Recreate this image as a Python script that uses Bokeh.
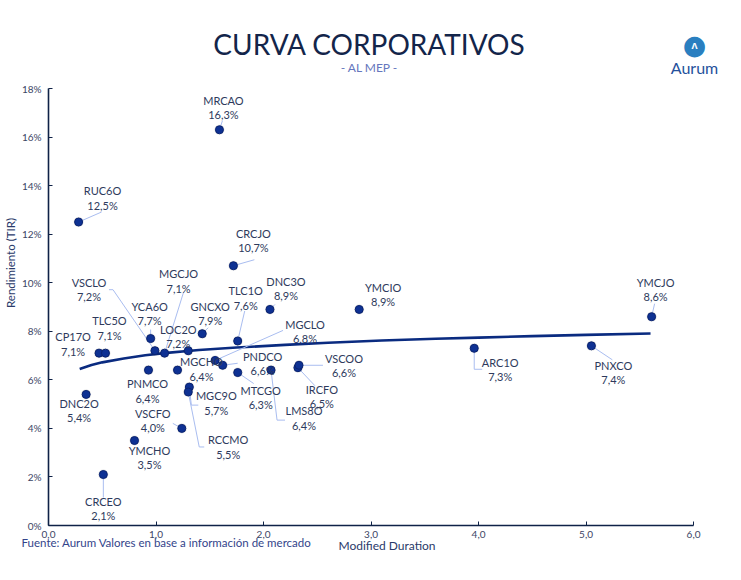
import math
from bokeh.plotting import figure
from bokeh.models import (Label, FixedTicker, CustomJSTickFormatter, ColumnDataSource,
                          Range1d, Title)
from bokeh.core.properties import value
from bokeh.embed import file_html
from bokeh.resources import INLINE

# ---------------- data ----------------
bonds = ["MRCAO", "RUC6O", "CRCJO", "YMCIO", "DNC3O", "YMCJO", "GNCXO", "TLC1O",
         "YCA6O", "VSCLO", "MGCJO", "LOC2O", "CP17O", "TLC5O", "ARC1O", "PNXCO",
         "MGCHO", "MGCLO", "PNDCO", "MTCGO", "LMS8O", "IRCFO", "VSCOO", "PNMCO",
         "MGC9O", "RCCMO", "VSCFO", "YMCHO", "CRCEO", "DNC2O"]
duration = [1.59, 0.28, 1.72, 2.89, 2.06, 5.61, 1.43, 1.76,
            0.95, 0.99, 1.08, 1.30, 0.47, 0.53, 3.96, 5.05,
            1.20, 1.55, 1.62, 1.76, 2.07, 2.32, 2.33, 0.93,
            1.31, 1.30, 1.24, 0.80, 0.51, 0.35]
ytm = [16.3, 12.5, 10.7, 8.9, 8.9, 8.6, 7.9, 7.6,
       7.7, 7.2, 7.1, 7.2, 7.1, 7.1, 7.3, 7.4,
       6.4, 6.8, 6.6, 6.3, 6.4, 6.5, 6.6, 6.4,
       5.7, 5.5, 4.0, 3.5, 2.1, 5.4]

# trend line
trend_x = [0.29, 0.40, 0.50, 0.70, 0.90, 1.10, 1.40, 1.75, 2.20, 2.60, 3.10, 3.60, 4.00, 4.50, 5.00, 5.60]
trend_y = [6.45, 6.61, 6.72, 6.88, 7.01, 7.11, 7.23, 7.33, 7.44, 7.53, 7.62, 7.69, 7.74, 7.80, 7.85, 7.91]

x_ticks = [0, 1, 2, 3, 4, 5, 6]
y_ticks = [0, 2, 4, 6, 8, 10, 12, 14, 16, 18]
x_axis_max = 6
y_axis_max = 18

# ---------------- layout / styling ----------------
W, H = 725, 564
FL, FB = 47, 39                 # frame left / bottom border (frame runs to top & right edge)
FW, FH = W - FL, H - FB
PX = 646 / x_axis_max           # px per duration unit
PY = 437 / y_axis_max           # px per percent

NAVY = "#0f2247"
TXT = "#2e3a5c"
PT = "#0e3193"
LEAD = "#a9bdf0"
FONT = "Lato"

# label offsets (px, screen, y down) and leader polylines
label_pos = {
    "MRCAO": (4, -22, [(3, -9)]),
    "RUC6O": (24, -24, [(23, -10)]),
    "CRCJO": (20, -25, [(21, -6)]),
    "YMCIO": (24, -15, []),
    "DNC3O": (16, -21, [(5, -5)]),
    "YMCJO": (4, -27, [(3, -13)]),
    "GNCXO": (8, -20, [(6, -6)]),
    "TLC1O": (8, -43, [(7, -30)]),
    "YCA6O": (-1, -25, [(0, -9)]),
    "VSCLO": (-66, -61, [(-42, -61), (-46, -61)]),
    "MGCJO": (14, -72, [(19, -61)]),
    "LOC2O": (-10, -14, []),
    "CP17O": (-26, -9, []),
    "TLC5O": (4, -25, []),
    "ARC1O": (26, 21, [(0, 21), (8, 21)]),
    "PNXCO": (22, 27, [(21, 14)]),
    "MGCHO": (24, -1, []),
    "MGCLO": (90, -29, [(68, -30)]),
    "PNDCO": (40, -2, [(15, -2)]),
    "MTCGO": (23, 25, [(16, 11)]),
    "LMS8O": (33, 48, [(6, 50), (14, 50)]),
    "IRCFO": (24, 29, [(17, 18)]),
    "VSCOO": (45, 0, [(24, 0)]),
    "PNMCO": (-1, 21, []),
    "MGC9O": (27, 16, [(2, 18), (9, 18)]),
    "RCCMO": (40, 55, [(11, 55), (16, 55)]),
    "VSCFO": (-29, -8, [(-9, -5)]),
    "YMCHO": (15, 17, []),
    "CRCEO": (0, 34, [(0, 23)]),
    "DNC2O": (-7, 16, []),
}

p = figure(width=W, height=H, output_backend="svg", toolbar_location=None,
           x_range=Range1d(0, FW / PX), y_range=Range1d(0, FH / PY),
           min_border_left=FL, min_border_right=0, min_border_top=0, min_border_bottom=FB,
           background_fill_color="white", border_fill_color="white",
           title_location=None)
p.outline_line_color = None
p.grid.visible = False

# axes
for ax in (p.xaxis[0], p.yaxis[0]):
    ax.axis_line_color = NAVY
    ax.axis_line_width = 1.6
    ax.major_tick_line_color = NAVY
    ax.major_tick_in = 4
    ax.major_tick_out = 0
    ax.minor_tick_line_color = None
    ax.major_label_text_font = FONT
    ax.major_label_text_font_size = "10px"
    ax.major_label_text_color = "#3b4565"
    ax.axis_label_text_font = FONT
    ax.axis_label_text_font_style = "normal"
    ax.axis_label_text_font_size = "12px"
    ax.axis_label_text_color = "#2a3a6a"
p.xaxis.bounds = (0, x_axis_max)
p.yaxis.bounds = (0, y_axis_max)
p.xaxis.ticker = FixedTicker(ticks=x_ticks)
p.yaxis.ticker = FixedTicker(ticks=y_ticks)
p.xaxis.formatter = CustomJSTickFormatter(code="return tick.toFixed(1).replace('.', ',');")
p.yaxis.formatter = CustomJSTickFormatter(code="return tick.toFixed(0) + '%';")
p.xaxis.major_label_standoff = 5
p.yaxis.major_label_standoff = 7
p.xaxis.axis_label = "Modified Duration"
p.xaxis.axis_label_standoff = -3
p.yaxis.axis_label = "Rendimiento (TIR)"
p.yaxis.axis_label_standoff = 2
p.yaxis.axis_label_text_font_size = "11.5px"

# trend line
p.line(trend_x, trend_y, line_color="#0a2b80", line_width=2.6)

# leaders
lxs, lys = [], []
for b, x, y in zip(bonds, duration, ytm):
    dx, dy, pts = label_pos[b]
    if pts:
        lxs.append([x] + [x + ox / PX for ox, oy in pts])
        lys.append([y] + [y - oy / PY for ox, oy in pts])
p.multi_line(lxs, lys, line_color=LEAD, line_width=1)

# points
src = ColumnDataSource(dict(x=duration, y=ytm))
p.scatter("x", "y", source=src, size=10, fill_color="#000000", fill_alpha=0.12, line_color=None)
p.scatter("x", "y", source=src, size=8, fill_color=PT, line_color="#0a2370", line_width=1)

# labels
tx, ty, tt = [], [], []
for b, x, y in zip(bonds, duration, ytm):
    dx, dy, _ = label_pos[b]
    tx.append(x + dx / PX)
    ty.append(y - dy / PY)
    tt.append(b + "\n" + ("%.1f" % y).replace(".", ",") + "%")
p.text(tx, ty, text=tt, text_align="center", text_baseline="middle",
       text_font=value(FONT), text_font_size="11px", text_color=TXT, text_line_height=1.1)

# title, subtitle, logo (inside the frame, screen units from frame bottom-left)
def lab(text, x, y, size, color, align="center", font=FONT, style="normal"):
    p.add_layout(Label(x=x, y=y, x_units="screen", y_units="screen", text=text,
                       text_font=font, text_font_size=size, text_color=color,
                       text_align=align, text_baseline="middle", text_font_style=style))

lab("CURVA CORPORATIVOS", 321, 482, "28px", "#13254a")
lab("- AL MEP -", 321, 458, "12px", "#6576bd")
lab("●", 646, 481, "27px", "#2a7fc0", font="DejaVu Sans")
lab("Λ", 646, 480, "9px", "white", font="Noto Sans", style="bold")
lab("Aurum", 646, 458, "16px", "#24519c")

# source note
p.add_layout(Title(text="Fuente: Aurum Valores en base a información de mercado",
                   align="left", vertical_align="top", offset=-27, standoff=-40,
                   text_font=FONT, text_font_size="11.5px", text_font_style="normal",
                   text_color="#33448a"),
             "below")

open("out.html", "w").write(file_html(p, INLINE))
